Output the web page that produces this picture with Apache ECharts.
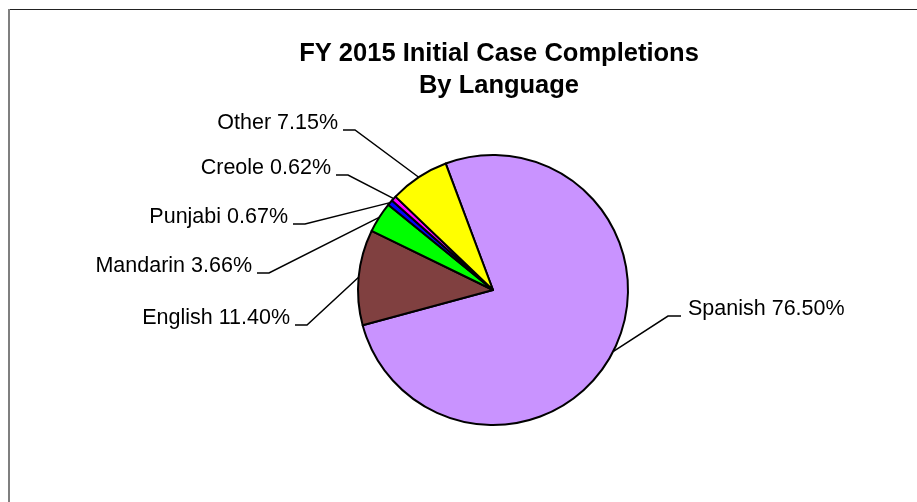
<!DOCTYPE html>
<html>
<head>
<meta charset="utf-8">
<script src="https://cdn.jsdelivr.net/npm/echarts@6/dist/echarts.min.js"></script>
<style>
  html, body { margin: 0; padding: 0; background: #fff; }
  #wrap { position: relative; width: 917px; height: 502px; overflow: hidden; background: #fff; }
  #chart { position: absolute; left: 0; top: 0; width: 917px; height: 502px; }
  #frameTop { position: absolute; left: 8px; top: 9px; width: 909px; height: 0; border-top: 1px solid #222; pointer-events: none; }
  #frameLeft { position: absolute; left: 8px; top: 9px; width: 0; height: 493px; border-left: 2px solid #7f7f7f; pointer-events: none; }
</style>
</head>
<body>
<div id="wrap">
  <div id="chart"></div>
  <div id="frameTop"></div>
  <div id="frameLeft"></div>
</div>
<script>
// ---- Data ----
const titleLines = ["FY 2015 Initial Case Completions", "By Language"];
const categories = ["Spanish", "English", "Mandarin", "Punjabi", "Creole", "Other"];
const values = [76.50, 11.40, 3.66, 0.67, 0.62, 7.15];
const colors = ["#C993FF", "#804040", "#00FF00", "#0000FF", "#FF00FF", "#FFFF00"];

// ---- Layout (not data) ----
const center = [493, 290];
const radius = 135;
const startAngle = 110.5;
// label anchor: x = text edge, y = text middle, align
const labelAnchors = [
  { x: 688, y: 309, align: "left" },
  { x: 290, y: 318, align: "right" },
  { x: 252, y: 266, align: "right" },
  { x: 288, y: 217, align: "right" },
  { x: 331, y: 168, align: "right" },
  { x: 338, y: 123, align: "right" }
];

const total = values.reduce((a, b) => a + b, 0);
function edgePoint(i) {
  let before = 0;
  for (let k = 0; k < i; k++) before += values[k];
  const mid = startAngle - (before + values[i] / 2) / total * 360;
  const rad = mid * Math.PI / 180;
  return [center[0] + radius * Math.cos(rad), center[1] - radius * Math.sin(rad)];
}

const chart = echarts.init(document.getElementById("chart"), null, { renderer: "canvas" });
const option = {
  backgroundColor: "transparent",
  animation: false,
  title: {
    text: titleLines.join("\n"),
    left: 494,
    textAlign: "center",
    top: 33,
    textStyle: {
      fontFamily: "Liberation Sans, Arial, sans-serif",
      fontSize: 25.5,
      fontWeight: "bold",
      color: "#000",
      lineHeight: 32
    }
  },
  series: [{
    type: "pie",
    center: center,
    radius: radius,
    startAngle: startAngle,
    clockwise: true,
    avoidLabelOverlap: false,
    minShowLabelAngle: 0,
    data: categories.map((c, i) => ({ name: c, value: values[i], itemStyle: { color: colors[i] } })),
    itemStyle: { borderColor: "#000", borderWidth: 2 },
    emphasis: { disabled: true },
    label: {
      show: true,
      position: "outside",
      formatter: p => p.name + " " + values[p.dataIndex].toFixed(2) + "%",
      fontFamily: "Liberation Sans, Arial, sans-serif",
      fontSize: 21.5,
      color: "#000"
    },
    labelLine: {
      show: true,
      length: 20,
      length2: 12,
      lineStyle: { color: "#000", width: 1.5 }
    },
    labelLayout: function (params) {
      const i = params.dataIndex;
      const a = labelAnchors[i];
      const e = edgePoint(i);
      const ly = a.y + 7;
      let pts;
      if (a.align === "left") {
        pts = [e, [a.x - 20, ly], [a.x - 7, ly]];
      } else {
        pts = [e, [a.x + 17, ly], [a.x + 5, ly]];
      }
      return {
        x: a.x,
        y: a.y,
        align: a.align,
        verticalAlign: "middle",
        labelLinePoints: pts
      };
    }
  }]
};
chart.setOption(option);
</script>
</body>
</html>
